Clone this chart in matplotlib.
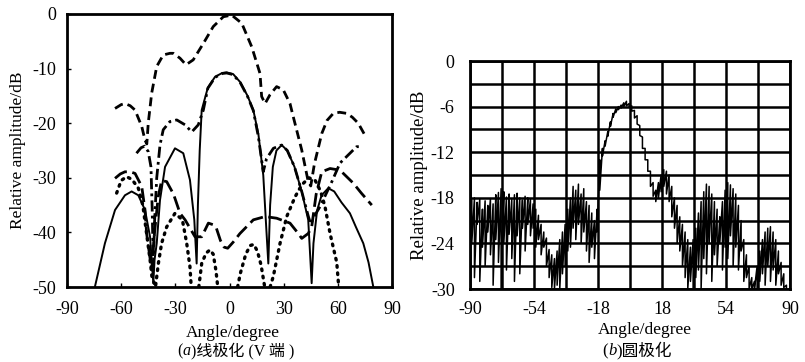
import numpy as np
import matplotlib
matplotlib.use("Agg")
import matplotlib.pyplot as plt
from matplotlib.offsetbox import TextArea, HPacker, AnchoredOffsetbox

FAMS = ['Liberation Serif', 'Noto Sans CJK SC']
plt.rcParams['font.family'] = FAMS
plt.rcParams['axes.unicode_minus'] = False

# ---- (a) linear polarisation, five measured patterns ----
a_ang = [-63.4, -60, -57.9, -55, -52.3, -48.6, -46.8, -45.8, -45, -43.1, -40.3, -36.7, -33, -31.1,
         -27.4, -24.1, -20.1, -14.5, -9, -3.4, 1.2, 6.8, 12.3, 16.9, 17.8, 19.7, 22.4, 26.1, 29.8,
         33.5, 35.3, 40, 43.6, 45, 47, 51.1, 54, 57.5, 61, 64.9, 68, 71.3, 75]
a_db = [-17.3, -16.6, -16.4, -16.8, -17.6, -20.6, -23.1, -23.8, -20, -14.5, -9.6, -7.5, -7.2, -7.2,
        -8.1, -9.3, -8.4, -5.4, -2.3, -0.5, -0.2, -1.7, -6.0, -10.9, -15.1, -16.4, -14.8, -13.3, -13.9,
        -16.4, -18.8, -24.9, -30.7, -31.5, -27.5, -21.9, -19.5, -18.2, -18.0, -18.2, -18.9, -20.0, -22.2]

b_ang = [-74.5, -69, -63.4, -57.9, -54.2, -50.5, -46.8, -44, -42.2, -41.5, -40.3, -38.5, -35.7,
         -30.2, -25.6, -21.9, -19.5, -18.2, -17.5, -16.5, -15.4, -12, -8, -4, -1.6, 2, 6, 10, 13.2,
         16, 18.7, 20.5, 21.5, 22.5, 24, 26, 28.9, 32, 36, 40, 43.6, 45.5, 46.5, 48.5, 51, 54.7, 58,
         62, 66.7, 70, 74.1, 77, 79.6]
b_db = [-49.9, -42, -35.9, -33.2, -32.5, -33.2, -35.9, -40.8, -49.3, -45, -42, -34.1, -28,
        -24.6, -25.5, -30.4, -37.7, -45.7, -35, -25, -17.6, -13.5, -11.5, -10.8, -10.7, -11, -12.5,
        -15, -17.6, -22, -29.5, -40, -45.7, -35, -28, -25, -24, -25, -28, -32.5, -37.7, -49.3, -42,
        -36, -33.2, -31.9, -32.5, -34.5, -36.5, -39, -42, -45.5, -49.9]

c_ang = [-51.5, -49, -47, -45, -43.5, -42.8, -42.2, -41.5, -40.3, -38.5, -36.7, -33, -29.2, -24.6,
         -20.9, -17.3, -14.5, -12, -8, -4, -1.6, 2, 6, 10, 13.2, 16, 18.7, 20.5, 24.3, 28.9, 32,
         36, 40, 43.6, 45, 47, 50.1, 56.7, 61.2, 64.9, 70.4, 73.2]
c_db = [-25.5, -24.5, -24.2, -25.2, -28, -36, -46.5, -38, -30, -24, -21.2, -19.7, -19.4, -20.3,
        -21.6, -20.3, -17.6, -13.6, -11.6, -10.9, -10.8, -11.1, -12.6, -15.1, -17.7, -22.5, -28.9,
        -26.5, -24.6, -24, -25, -28, -32.5, -37, -38.5, -37, -35.3, -30.7, -27.3, -26.1, -24.3, -24.3]

d_ang = [-63.4, -60.5, -57.9, -55, -52.3, -48.6, -46.8, -45.9, -43.1, -41.5, -39.5, -37.6, -34.8,
         -31, -27.4, -24.6, -19.1, -15.4, -11.7, -9, -7.5, -5, -3, -1, 2, 5.8, 13.2, 19.7, 26.1,
         33.5, 38.1, 40, 43.6, 45.5, 48, 51.1, 55.7, 61.2, 68.6, 73, 78.8]
d_db = [-30.1, -29.3, -28.9, -28.9, -29.2, -31.6, -35.9, -40.2, -46.9, -40, -33.5, -30.5, -30.7,
        -33, -36.5, -37.7, -40.8, -40.8, -38.3, -38.6, -39, -41.5, -42.7, -42.9, -41.8, -40.2,
        -37.7, -37.1, -37.4, -38.3, -40.2, -41.1, -40.2, -39, -33, -28.9, -28.3, -28.6, -31.0,
        -32.8, -35.0]

e_ang = [-62.5, -60, -57, -54, -50.5, -48, -46, -44, -43, -41, -39.4, -37.6, -34.8, -30.2, -26.1,
         -23.7, -21.9, -21.2, None, -17, -15.4, -13, -10.8, -9, -7.5, -6.5, None, 4.5, 6, 9, 11.5,
         13.5, 15.5, 17.5, 19.5, None, 22.5, 24.3, 28, 31.7, 36.3, 40, 44, 47.5, 50.5, 52.9, 55.7,
         58, 59.4, 60.5]
e_db = [-32.8, -30.5, -29.8, -30.3, -31.9, -35, -40, -45, -48, -50, -45.7, -42, -39, -36.5, -37.7,
        -42, -46.3, -50, None, -50, -45.7, -43.8, -43.2, -44, -47, -50, None, -50, -47.5, -44,
        -42.4, -42.2, -43.5, -46, -50, None, -50, -48, -42, -37.1, -33.5, -31.3, -30, -30.5, -32.5,
        -35.3, -40.2, -43.5, -45.5, -50]

# ---- (b) circular polarisation, measured upper / lower envelope ----
b2_ang = np.arange(-89, 88.5, 1.5)
b2_up = [-18.3, -18.0, -18.6, -18.2, -19.5, -18.4, -19.0, -18.1, -18.8, -17.6, -17.3, -16.8, -17.2,
         -17.9, -17.5, -18.2, -17.6, -17.4, -18.0, -18.3, -17.8, -18.0, -18.2, -18.8, -19.5, -20.3,
         -21.5, -22.5, -23.3, -24.8, -25.5, -26.0, -25.0, -23.5, -22.5, -21.5, -19.5, -18.0, -16.5,
         -17.0, -16.2, -17.5, -16.8, -18.5, -19.0, -20.0, -21.0, -19.5, -13.0, -11.5, -10.5, -9.3,
         -8.0, -6.9, -6.3, -6.0, -5.8, -5.5, -5.3, -5.6, -5.9, -6.5, -7.2, -8.5, -10.0, -11.5, -13.0,
         -14.5, -16.0, -17.0, -16.0, -15.0, -14.3, -14.5, -15.0, -16.5, -18.0, -19.0, -20.5, -21.5,
         -22.5, -23.5, -24.5, -23.5, -22.0, -20.0, -18.5, -17.2, -16.2, -16.5, -17.5, -18.5, -19.5,
         -20.5, -18.5, -17.0, -16.0, -16.3, -16.8, -17.5, -19.0, -21.0, -23.5, -25.5, -27.0, -28.5,
         -29.0, -27.0, -25.0, -23.5, -22.5, -22.0, -21.8, -22.5, -23.5, -25.0, -26.5, -28.0, -29.5]
b2_lo = [-24, -28.5, -21.5, -29, -24.5, -27, -22.5, -25.5, -29.5, -23.5, -26.5, -30, -24, -27.5,
         -22.8, -26, -29, -23, -28, -22, -25, -21.5, -23, -22, -24.5, -23.5, -25.5, -24.5, -27,
         -28.5, -29.8, -30, -29.5, -30, -28, -27, -25, -24.5, -22, -23.5, -21.5, -24, -22.5, -25,
         -26.5, -24.5, -26, -22.5, -17, -12.5, -11.2, -9.9, -8.6, -7.4, -6.8, -6.4, -6.2, -6.0,
         -5.9, -6.1, -6.6, -7.5, -8.3, -9.8, -11.5, -13, -14.5, -16.5, -17.8, -18.5, -18, -17.2,
         -16.5, -17.5, -18.5, -20.5, -22, -24, -25, -27, -28.5, -30, -29, -30, -28.5, -27.5, -30,
         -26, -28, -24, -29, -25.5, -27, -24, -27.5, -24.5, -26, -23, -27, -24.5, -27.5, -25, -29,
         -28.5, -30, -30, -30, -30, -29, -28, -29.5, -27, -29, -27.5, -29.5, -28, -29.5, -29.8, -30]

W, H = 805, 362
fig = plt.figure(figsize=(W / 100, H / 100), dpi=100)


def caption(x, y, letter, rest, size=12):
    tp = dict(fontsize=size, family=FAMS)
    parts = [TextArea('(', textprops=tp),
             TextArea(letter, textprops=dict(tp, style='italic')),
             TextArea(')' + rest, textprops=tp)]
    box = HPacker(children=parts, align='baseline', pad=0, sep=0)
    ab = AnchoredOffsetbox(loc='center', child=box, bbox_to_anchor=(x / W, 1 - y / H),
                           bbox_transform=fig.transFigure, frameon=False, pad=0, borderpad=0)
    fig.add_artist(ab)


ax1 = fig.add_axes([67 / W, 1 - 287 / H, 325 / W, 273 / H])
ax1.plot(a_ang, a_db, color='black', lw=2, linestyle=(0, (3.2, 1.8)))
ax1.plot(b_ang, b_db, color='black', lw=1.4)
ax1.plot(c_ang, c_db, color='black', lw=2, linestyle=(0, (4, 1.5, 1, 1.5)))
ax1.plot(d_ang, d_db, color='black', lw=2, linestyle=(0, (5, 2)))
e_x = np.array(e_ang, dtype=float)
e_y = np.array(e_db, dtype=float)
ax1.plot(e_x, e_y, color='black', lw=2.4, linestyle=(0, (0.5, 1.7)), dash_capstyle='round')
ax1.set_xlim(-90, 90)
ax1.set_ylim(-50, 0)
ax1.set_xticks([-90, -60, -30, 0, 30, 60, 90])
ax1.set_yticks([0, -10, -20, -30, -40, -50])
ax1.tick_params(direction='in', length=3, width=1, labelsize=13, pad=8)
ax1.tick_params(axis='x', pad=10)
for s in ax1.spines.values():
    s.set_linewidth(2)
ax1.set_ylabel('Relative amplitude/dB', fontsize=12.5, labelpad=4)
fig.text(233 / W, 1 - 333 / H, 'Angle/degree', ha='center', va='center', fontsize=12.5)
caption(236, 351, 'a', '线极化 (V 端 )', size=11.5)

ax2 = fig.add_axes([470 / W, 1 - 289 / H, 320 / W, 228 / H])
zx = np.repeat(b2_ang, 2)
zy = np.column_stack([b2_up, b2_lo]).ravel()
ax2.plot(zx, zy, color='black', lw=1.1)
ax2.set_xlim(-90, 90)
ax2.set_ylim(-30, 0)
ax2.set_xticks([-90, -54, -18, 18, 54, 90])
ax2.set_xticks(np.arange(-72, 90, 36), minor=True)
ax2.set_yticks([-30, -24, -18, -12, -6, 0])
ax2.set_yticks(np.arange(-27, 0, 6), minor=True)
ax2.grid(True, which='both', color='black', lw=1.8)
ax2.tick_params(which='both', length=0, labelsize=13, pad=11)
ax2.tick_params(axis='x', pad=9)
for s in ax2.spines.values():
    s.set_linewidth(2)
ax2.set_ylabel('Relative amplitude/dB', fontsize=13.5, labelpad=2)
fig.text(645 / W, 1 - 330 / H, 'Angle/degree', ha='center', va='center', fontsize=12.5)
caption(637, 350, 'b', '圆极化')

fig.savefig('out.png', dpi=100)
